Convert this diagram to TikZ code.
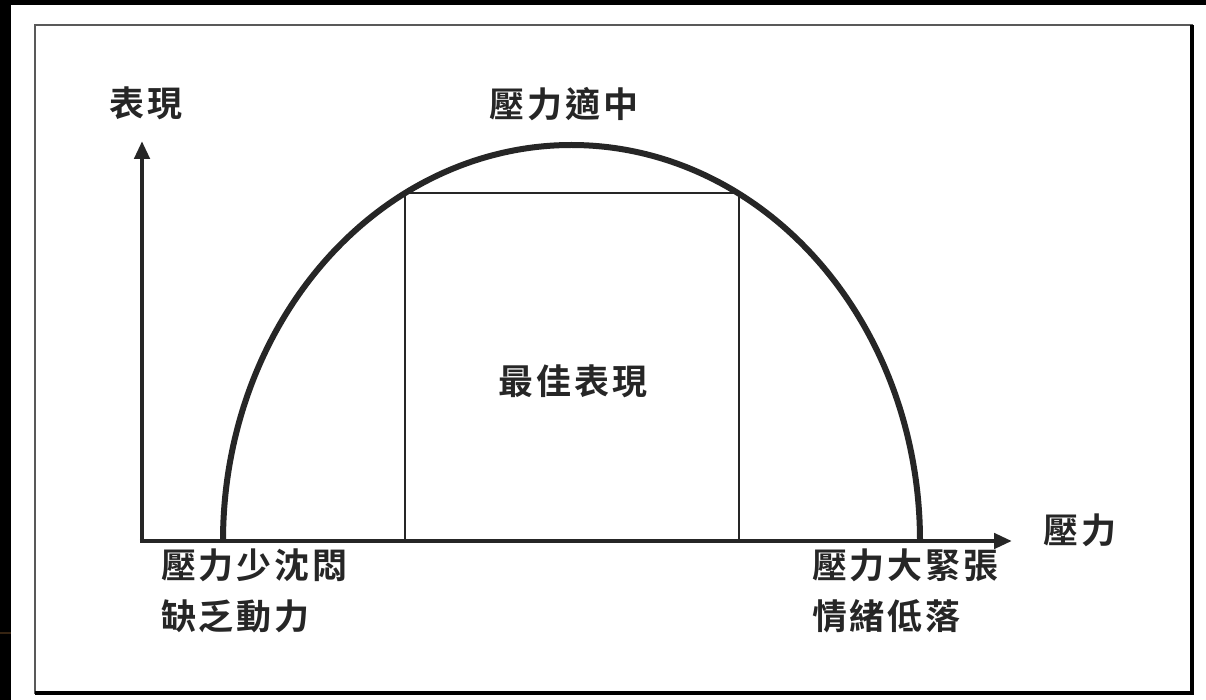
\documentclass[tikz,border=0pt]{standalone}
\usepackage{fontspec}
\usetikzlibrary{arrows.meta}
\newfontfamily\cjk{Noto Sans CJK TC}[BoldFont={Noto Sans CJK TC Bold},LetterSpace=8]
\definecolor{ink}{RGB}{38,38,38}
\tikzset{
  lbl/.style={font=\cjk\bfseries\fontsize{35}{38}\selectfont, text=ink, inner sep=0pt},
  axis/.style={line width=4.5pt, draw=ink, -{Triangle[length=18pt,width=15pt]}},
  thin/.style={line width=2.8pt, draw=ink},
}
\begin{document}
\begin{tikzpicture}[x=1pt,y=-1pt]
\useasboundingbox (0,0) rectangle (1206,700);
\fill[black] (0,0) rectangle (1206,700);
\fill[white] (11,5) rectangle (1206,700);
\draw[line width=2pt, draw=black!30!brown!40!black] (0,633) -- (11,633);
% frame with shadow
\draw[line width=2.4pt, draw=black!65] (1192,693) -- (35,693) -- (35,25) -- (1192,25) -- cycle;
\draw[line width=4.5pt, draw=black] (1192,25) -- (1192,693) -- (35,693);
% best region rectangle
\coordinate (rtl) at (405,193);
\coordinate (rbr) at (739,541);
\draw[thin] (rtl |- rbr) -- (rtl) -- (rbr |- rtl) -- (rbr);
% axes
\coordinate (o) at (142,541);
\coordinate (ytip) at (142,141);
\coordinate (xtip) at (1012,541);
\draw[axis] (o) -- (ytip);
\draw[axis] ([xshift=-2.25pt]o) -- (xtip);
% curve
\draw[line width=6pt, draw=ink, line cap=butt]
  plot[domain=180:0, samples=181, smooth] ({571.5+348.5*cos(\x)}, {541-396*sin(\x)});
% labels
\node[lbl] (yl) at (146,103) {表現};
\node[lbl] (top) at (564,104) {壓力適中};
\node[lbl] (best) at (573,381) {最佳表現};
\node[lbl] (xl) at (1080,530) {壓力};
\node[lbl, anchor=west] (l1) at (161,565) {壓力少沈悶};
\node[lbl, anchor=west] (l2) at (161,616) {缺乏動力};
\node[lbl, anchor=west] (r1) at (812,565) {壓力大緊張};
\node[lbl, anchor=west] (r2) at (812,616) {情緒低落};
\end{tikzpicture}
\end{document}
